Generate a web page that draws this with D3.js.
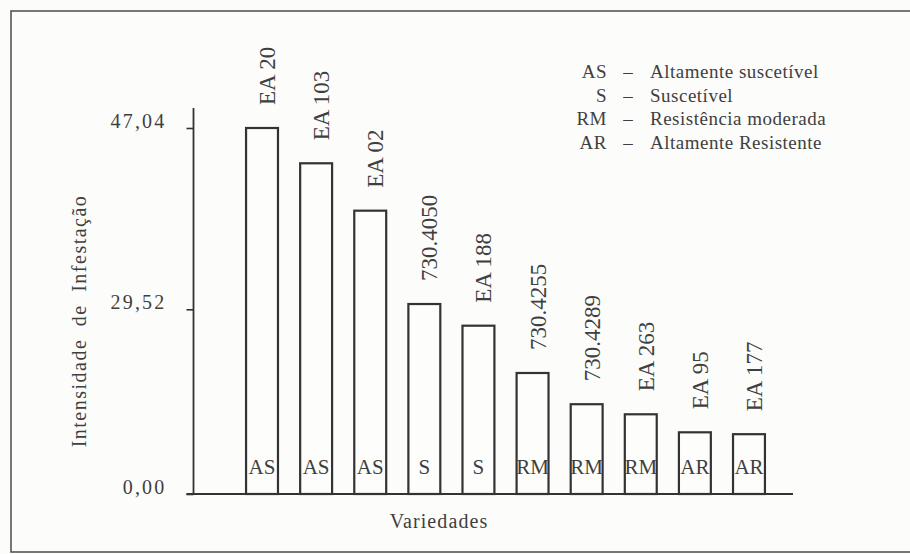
<!DOCTYPE html>
<html>
<head>
<meta charset="utf-8">
<script src="https://cdn.jsdelivr.net/npm/d3@7/dist/d3.min.js"></script>
<style>
  html, body { margin: 0; padding: 0; background: #fcfcfa; }
  svg { display: block; }
  text { font-family: "Liberation Serif", "DejaVu Serif", serif; fill: #3f3f3f; }
</style>
</head>
<body>
<svg id="chart" width="910" height="554"></svg>
<script>
// ---- data ----
const varieties = ["EA 20", "EA 103", "EA 02", "730.4050", "EA 188", "730.4255", "730.4289", "EA 263", "EA 95", "EA 177"];
const intensity = [47.04, 43.63, 39.05, 30.03, 26.90, 19.34, 14.35, 12.74, 9.86, 9.56];
const classes   = ["AS", "AS", "AS", "S", "S", "RM", "RM", "RM", "AR", "AR"];
const yTicks    = [0, 29.52, 47.04];
const legendCodes = ["AS", "S", "RM", "AR"];
const legendNames = ["Altamente suscetível", "Suscetível", "Resistência moderada", "Altamente Resistente"];
const yTitle = "Intensidade de Infestação";
const xTitle = "Variedades";

// ---- setup ----
const svg = d3.select("#chart");
const ink = "#333";

// frame
svg.append("rect")
  .attr("x", 11).attr("y", 11).attr("width", 960).attr("height", 541)
  .attr("fill", "none").attr("stroke", "#555").attr("stroke-width", 1.6);

// scales (axis in the original is drawn with its own tick spacing)
const y = d3.scaleLinear().domain(yTicks).range([494, 309.3, 128]);
const x = d3.scaleBand().domain(varieties).range([219, 792]).paddingInner(0.41).paddingOuter(0.5);
const axisX = 193.5;

const ptBR = d3.formatLocale({ decimal: ",", thousands: ".", grouping: [3], currency: ["R$", ""] });
const fmt = ptBR.format(".2f");

// y axis
const yAxis = svg.append("g")
  .attr("transform", `translate(${axisX},0)`)
  .call(d3.axisLeft(y).tickValues(yTicks).tickFormat(fmt).tickSize(7).tickPadding(20));
yAxis.select(".domain").remove();
yAxis.selectAll(".tick line").attr("stroke", ink).attr("stroke-width", 1.6);
yAxis.selectAll(".tick text")
  .attr("dy", "-0.02em")
  .style("font-family", '"Liberation Serif", serif')
  .style("font-size", "20px")
  .style("letter-spacing", "2.2px")
  .attr("fill", "#444");

// y axis line (extends above top tick)
svg.append("line")
  .attr("x1", axisX).attr("x2", axisX)
  .attr("y1", y(0)).attr("y2", y(d3.max(yTicks)) - 20)
  .attr("stroke", ink).attr("stroke-width", 1.8);

// x axis line
svg.append("line")
  .attr("x1", axisX - 7).attr("x2", x.range()[1] + 1)
  .attr("y1", y(0)).attr("y2", y(0))
  .attr("stroke", ink).attr("stroke-width", 2);

// bars
const data = varieties.map((v, i) => ({ name: v, value: intensity[i], cls: classes[i] }));

svg.append("g").selectAll("rect")
  .data(data).join("rect")
  .attr("x", d => x(d.name))
  .attr("y", d => y(d.value))
  .attr("width", x.bandwidth())
  .attr("height", d => y(0) - y(d.value))
  .attr("fill", "#fdfdfb")
  .attr("stroke", ink)
  .attr("stroke-width", 2.2);

// class labels inside bars
svg.append("g").selectAll("text")
  .data(data).join("text")
  .attr("x", d => x(d.name) + x.bandwidth() / 2)
  .attr("y", y(0) - 20)
  .attr("text-anchor", "middle")
  .style("font-size", "21px")
  .text(d => d.cls);

// rotated variety labels above bars
svg.append("g").selectAll("text")
  .data(data).join("text")
  .attr("transform", d => `translate(${x(d.name) + x.bandwidth() / 2 + 13},${y(d.value) - 23}) rotate(-90)`)
  .attr("text-anchor", "start")
  .style("font-size", "23px")
  .text(d => d.name);

// axis titles
svg.append("text")
  .attr("transform", `translate(86,${(y(0) + 128) / 2 + 10}) rotate(-90)`)
  .attr("text-anchor", "middle")
  .style("font-size", "20px")
  .style("letter-spacing", "1.5px")
  .style("word-spacing", "6px")
  .text(yTitle);

svg.append("text")
  .attr("x", 439).attr("y", 528)
  .attr("text-anchor", "middle")
  .style("font-size", "20px")
  .style("letter-spacing", "1.1px")
  .text(xTitle);

// legend
const lg = svg.append("g");
const rowY = i => 78.3 + i * 23.4;
lg.selectAll("text.code")
  .data(legendCodes).join("text")
  .attr("class", "code")
  .attr("x", 607).attr("y", (d, i) => rowY(i))
  .attr("text-anchor", "end")
  .style("font-size", "19px")
  .style("letter-spacing", "0.5px")
  .text(d => d);
lg.selectAll("text.dash")
  .data(legendCodes).join("text")
  .attr("class", "dash")
  .attr("x", 628).attr("y", (d, i) => rowY(i))
  .attr("text-anchor", "middle")
  .style("font-size", "19px")
  .attr("fill", "#9a9a9a")
  .text("–");
lg.selectAll("text.name")
  .data(legendNames).join("text")
  .attr("class", "name")
  .attr("x", 650).attr("y", (d, i) => rowY(i))
  .style("font-size", "19px")
  .style("letter-spacing", "0.5px")
  .text(d => d);
</script>
</body>
</html>
